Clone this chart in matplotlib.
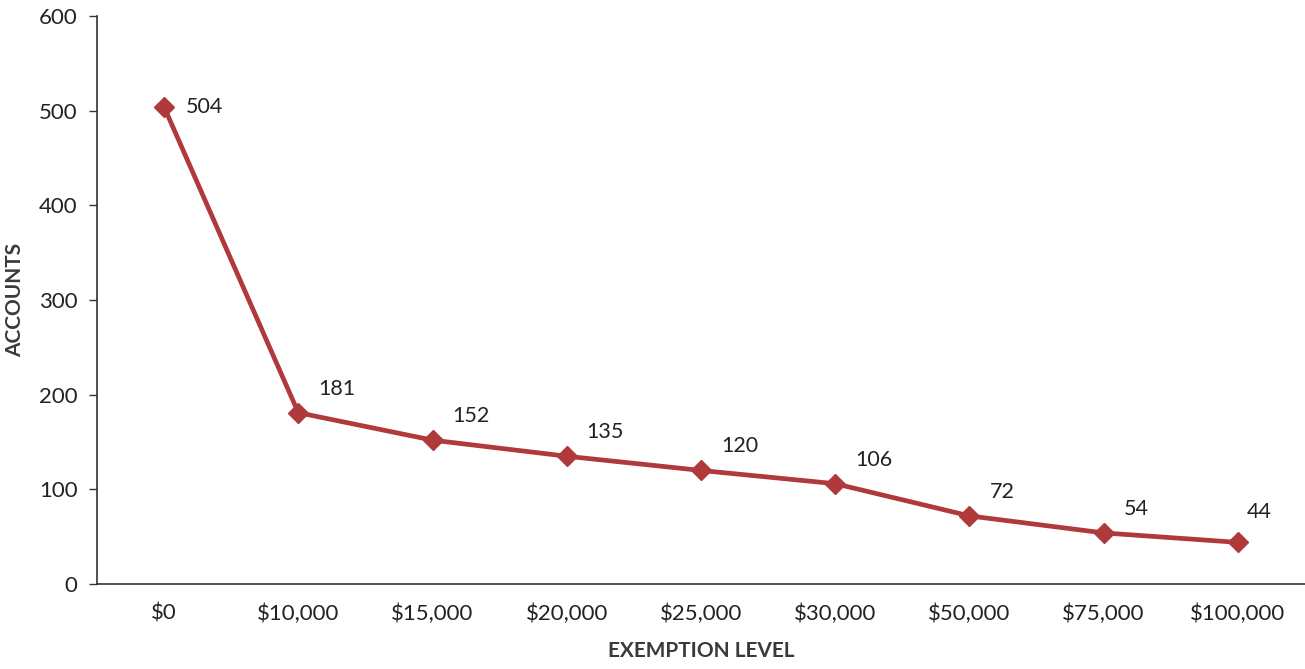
import matplotlib.pyplot as plt

levels = ["$0", "$10,000", "$15,000", "$20,000", "$25,000", "$30,000", "$50,000", "$75,000", "$100,000"]
accounts = [504, 181, 152, 135, 120, 106, 72, 54, 44]
label_offsets = [(22, 0), (20, 24), (20, 24), (20, 24), (20, 24), (20, 24), (20, 24), (20, 24), (9, 30)]

plt.rcParams['font.family'] = ['Lato', 'DejaVu Sans']

fig = plt.figure(figsize=(13.05, 6.69), dpi=100)
ax = fig.add_axes([0.0743, 0.127, 0.9257, 0.849])

line_color = '#b0393b'
x = range(len(levels))
ax.plot(x, accounts, color=line_color, lw=3.4, marker='D', ms=10, mec=line_color, mfc=line_color)

for i, (v, (dx, dy)) in enumerate(zip(accounts, label_offsets)):
    ax.annotate(str(v), (i, v), xytext=(dx * 0.72, dy * 0.72), textcoords='offset points',
                ha='left', va='center', fontsize=15.5, color='#222222')

ax.set_xlim(-0.5, len(levels) - 0.5)
ax.set_ylim(0, 600)
ax.set_yticks(range(0, 601, 100))
ax.set_xticks(list(x))
ax.set_xticklabels(levels)

for s in ['top', 'right']:
    ax.spines[s].set_visible(False)
for s in ['left', 'bottom']:
    ax.spines[s].set_color('#333333')
    ax.spines[s].set_linewidth(1.2)

ax.tick_params(axis='y', length=6, width=1, color='#333333', labelsize=16, labelcolor='#222222', pad=8)
ax.tick_params(axis='x', length=0, labelsize=16, labelcolor='#222222', pad=14)

ax.set_xlabel('EXEMPTION LEVEL', fontsize=15, fontweight='bold', color='#3a3a3a', labelpad=12)
ax.set_ylabel('ACCOUNTS', fontsize=15, fontweight='bold', color='#3a3a3a', labelpad=10)

fig.savefig('out.png', dpi=100)
